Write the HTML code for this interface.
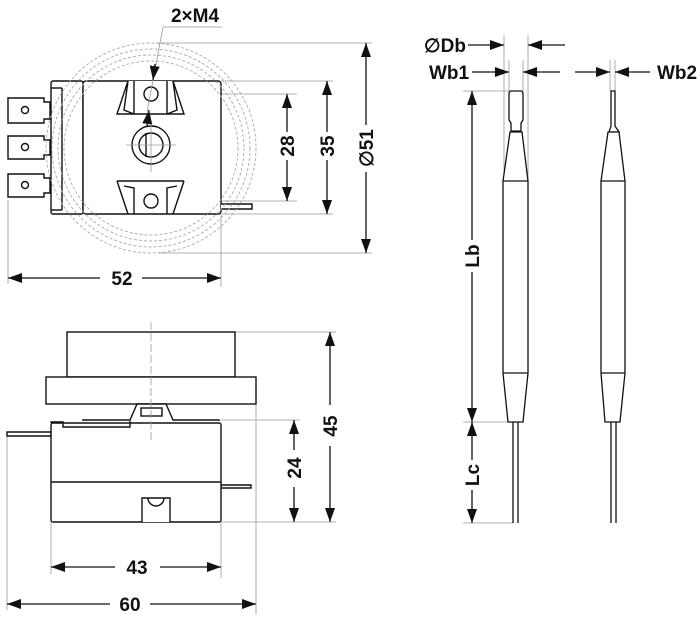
<!DOCTYPE html>
<html><head><meta charset="utf-8"><style>
html,body{margin:0;padding:0;background:#fff}
svg{display:block}
text{font-family:"Liberation Sans",sans-serif;font-size:19px;font-weight:bold;fill:#111}
</style></head><body>
<svg width="700" height="620" viewBox="0 0 700 620" xmlns="http://www.w3.org/2000/svg">
<defs>
<marker id="a" viewBox="0 0 14 10" refX="14" refY="5" markerWidth="14" markerHeight="10" markerUnits="userSpaceOnUse" orient="auto-start-reverse"><path d="M0,0L14,5L0,10z" fill="#111"/></marker>
</defs>
<!-- thin ext lines -->
<g stroke="#999" stroke-width="0.8" fill="none">
<line x1="158" y1="43" x2="372" y2="43"/><line x1="158" y1="253" x2="372" y2="253"/>
<line x1="221" y1="81" x2="333" y2="81"/><line x1="221" y1="214" x2="333" y2="214"/>
<line x1="160" y1="94" x2="297" y2="94"/><line x1="160" y1="201" x2="297" y2="201"/>
<line x1="8" y1="200" x2="8" y2="284"/><line x1="221" y1="214" x2="221" y2="287"/>
</g>
<g stroke="#111" stroke-width="1.3" fill="none">
<line x1="287" y1="94" x2="287" y2="132" marker-start="url(#a)"/><line x1="287" y1="160" x2="287" y2="201" marker-end="url(#a)"/>
<line x1="327" y1="81" x2="327" y2="132" marker-start="url(#a)"/><line x1="327" y1="160" x2="327" y2="214" marker-end="url(#a)"/>
<line x1="366" y1="43" x2="366" y2="125" marker-start="url(#a)"/><line x1="366" y1="172" x2="366" y2="253" marker-end="url(#a)"/>
<line x1="8" y1="278" x2="100" y2="278" marker-start="url(#a)"/><line x1="142" y1="278" x2="221" y2="278" marker-end="url(#a)"/>
</g>
<text x="195" y="22" text-anchor="middle">2×M4</text>
<text x="122" y="285" text-anchor="middle">52</text>
<text transform="translate(294,146) rotate(-90)" text-anchor="middle">28</text>
<text transform="translate(334,146) rotate(-90)" text-anchor="middle">35</text>
<text transform="translate(373,148) rotate(-90)" text-anchor="middle">∅51</text>
<!-- top view body -->
<g stroke="#111" stroke-width="1.4" fill="#fff">
<rect x="51" y="81" width="32" height="133" rx="2"/>
<rect x="83" y="81" width="138" height="133" rx="3"/>
<line x1="62" y1="88" x2="62" y2="210"/><line x1="51" y1="88" x2="62" y2="88"/><line x1="51" y1="210" x2="62" y2="210"/>
<path d="M50,102H44V98H8V123H44V119H50z"/><path d="M50,140H44V136H8V159H44V155H50z"/><path d="M50,178H44V174H8V197H44V193H50z"/>
<circle cx="25" cy="110" r="3.5"/><circle cx="25" cy="147" r="3.5"/><circle cx="25" cy="185" r="3.5"/>
<path d="M128,81L117,114H184L173,81"/><path d="M128,81L124,110L134,114M173,81L177,110L167,114" fill="none"/>
<line x1="134" y1="81" x2="134" y2="114"/><line x1="167" y1="81" x2="167" y2="114"/>
<path d="M117,181L128,214M184,181L173,214" fill="none"/><line x1="117" y1="181" x2="184" y2="181"/>
<path d="M124,186L134,188L134,214M177,186L167,188L167,214" fill="none"/>
<circle cx="151" cy="94" r="7"/><circle cx="151" cy="201" r="7"/>
<circle cx="151" cy="145" r="19"/><circle cx="151" cy="145" r="12"/>
<line x1="146" y1="133" x2="146" y2="157"/>
<path d="M221,204H252V209H221" />
</g>
<g fill="none" stroke="#aaa" stroke-width="0.9" stroke-dasharray="3,2">
<circle cx="151" cy="148" r="105"/><circle cx="151" cy="148" r="99"/><circle cx="151" cy="148" r="93"/><circle cx="151" cy="148" r="87"/>
</g>
<g stroke="#999" stroke-width="0.8" fill="none">
<line x1="151" y1="120" x2="151" y2="172"/><line x1="126" y1="145" x2="176" y2="145"/>
<line x1="163" y1="27" x2="222" y2="27"/><line x1="163" y1="27" x2="147" y2="112"/>
</g>
<g stroke="#111" stroke-width="1.3" fill="none">
<line x1="155" y1="64" x2="153" y2="80" marker-end="url(#a)"/><line x1="147" y1="126" x2="149" y2="110" marker-end="url(#a)"/>
</g>
<!-- side view -->
<g stroke="#999" stroke-width="0.8" fill="none">
<line x1="235" y1="332" x2="336" y2="332"/><line x1="221" y1="420" x2="300" y2="420"/><line x1="221" y1="522" x2="336" y2="522"/>
<line x1="51" y1="522" x2="51" y2="574"/><line x1="221" y1="522" x2="221" y2="578"/>
<line x1="7" y1="436" x2="7" y2="610"/><line x1="256" y1="404" x2="256" y2="614"/>
</g>
<g stroke="#111" stroke-width="1.4" fill="#fff">
<rect x="67" y="332" width="168" height="45"/>
<rect x="46" y="377" width="210" height="27"/>
<path d="M83,421V420H130L137,404H166L173,420H219V421"/>
<rect x="141" y="408" width="21" height="8"/>
<path d="M7,432H51V436H7z"/>
<path d="M221,485H251V488H221z"/>
<rect x="51" y="423" width="170" height="99" rx="2"/>
<line x1="51" y1="482" x2="221" y2="482"/>
<path d="M51,423V422H63V427H130V421" fill="none"/>
<path d="M142,522V498H170V522"/><path d="M148,498A8,8 0 0 0 164,498" fill="none"/>
</g>
<line x1="151" y1="322" x2="151" y2="440" stroke="#999" stroke-width="0.8" stroke-dasharray="8,3"/>
<g stroke="#111" stroke-width="1.3" fill="none">
<line x1="294" y1="420" x2="294" y2="450" marker-start="url(#a)"/><line x1="294" y1="487" x2="294" y2="522" marker-end="url(#a)"/>
<line x1="330" y1="332" x2="330" y2="405" marker-start="url(#a)"/><line x1="330" y1="446" x2="330" y2="522" marker-end="url(#a)"/>
<line x1="51" y1="567" x2="115" y2="567" marker-start="url(#a)"/><line x1="160" y1="567" x2="221" y2="567" marker-end="url(#a)"/>
<line x1="7" y1="604" x2="110" y2="604" marker-start="url(#a)"/><line x1="150" y1="604" x2="256" y2="604" marker-end="url(#a)"/>
</g>
<text x="137" y="574" text-anchor="middle">43</text>
<text x="130" y="611" text-anchor="middle">60</text>
<text transform="translate(301,468) rotate(-90)" text-anchor="middle">24</text>
<text transform="translate(337,426) rotate(-90)" text-anchor="middle">45</text>
<!-- probes -->
<g stroke="#999" stroke-width="0.8" fill="none">
<line x1="504" y1="35" x2="504" y2="181"/><line x1="528" y1="35" x2="528" y2="181"/>
<line x1="509" y1="60" x2="509" y2="91"/><line x1="523" y1="60" x2="523" y2="91"/>
<line x1="610" y1="60" x2="610" y2="91"/><line x1="615" y1="60" x2="615" y2="91"/>
<line x1="463" y1="91" x2="509" y2="91"/><line x1="463" y1="422" x2="509" y2="422"/><line x1="463" y1="523" x2="513" y2="523"/>
</g>
<g stroke="#111" stroke-width="1.3" fill="none">
<line x1="468" y1="45" x2="504" y2="45" marker-end="url(#a)"/><line x1="565" y1="45" x2="528" y2="45" marker-end="url(#a)"/>
<line x1="472" y1="72" x2="509" y2="72" marker-end="url(#a)"/><line x1="560" y1="72" x2="523" y2="72" marker-end="url(#a)"/>
<line x1="575" y1="72" x2="610" y2="72" marker-end="url(#a)"/><line x1="650" y1="72" x2="615" y2="72" marker-end="url(#a)"/>
<line x1="472" y1="91" x2="472" y2="240" marker-start="url(#a)"/><line x1="472" y1="272" x2="472" y2="422" marker-end="url(#a)"/>
<line x1="472" y1="422" x2="472" y2="460" marker-start="url(#a)"/><line x1="472" y1="490" x2="472" y2="523" marker-end="url(#a)"/>
</g>
<text x="445" y="52" text-anchor="middle">∅Db</text>
<text x="449" y="79" text-anchor="middle">Wb1</text>
<text x="677" y="79" text-anchor="middle">Wb2</text>
<text transform="translate(479,256) rotate(-90)" text-anchor="middle">Lb</text>
<text transform="translate(479,475) rotate(-90)" text-anchor="middle">Lc</text>
<g stroke="#111" stroke-width="1.3" fill="#fff">
<path d="M511,91H521Q523,91 523,94V120L521,123V131H511V123L509,120V94Q509,91 511,91z"/>
<path d="M510,132H522L528,181V373L523,422H508L503,373V181z"/>
<line x1="503" y1="181" x2="528" y2="181"/><line x1="503" y1="373" x2="528" y2="373"/>
<path d="M513,422V523M518,422V523" fill="none"/>
<path d="M611,91H615V126L619,132H609L611,126z"/>
<path d="M608,132H619L625,181V373L620,422H605L601,373V181z"/>
<line x1="601" y1="181" x2="625" y2="181"/><line x1="601" y1="373" x2="625" y2="373"/>
<path d="M611,422V523M616,422V523" fill="none"/>
</g>
</svg>
</body></html>
